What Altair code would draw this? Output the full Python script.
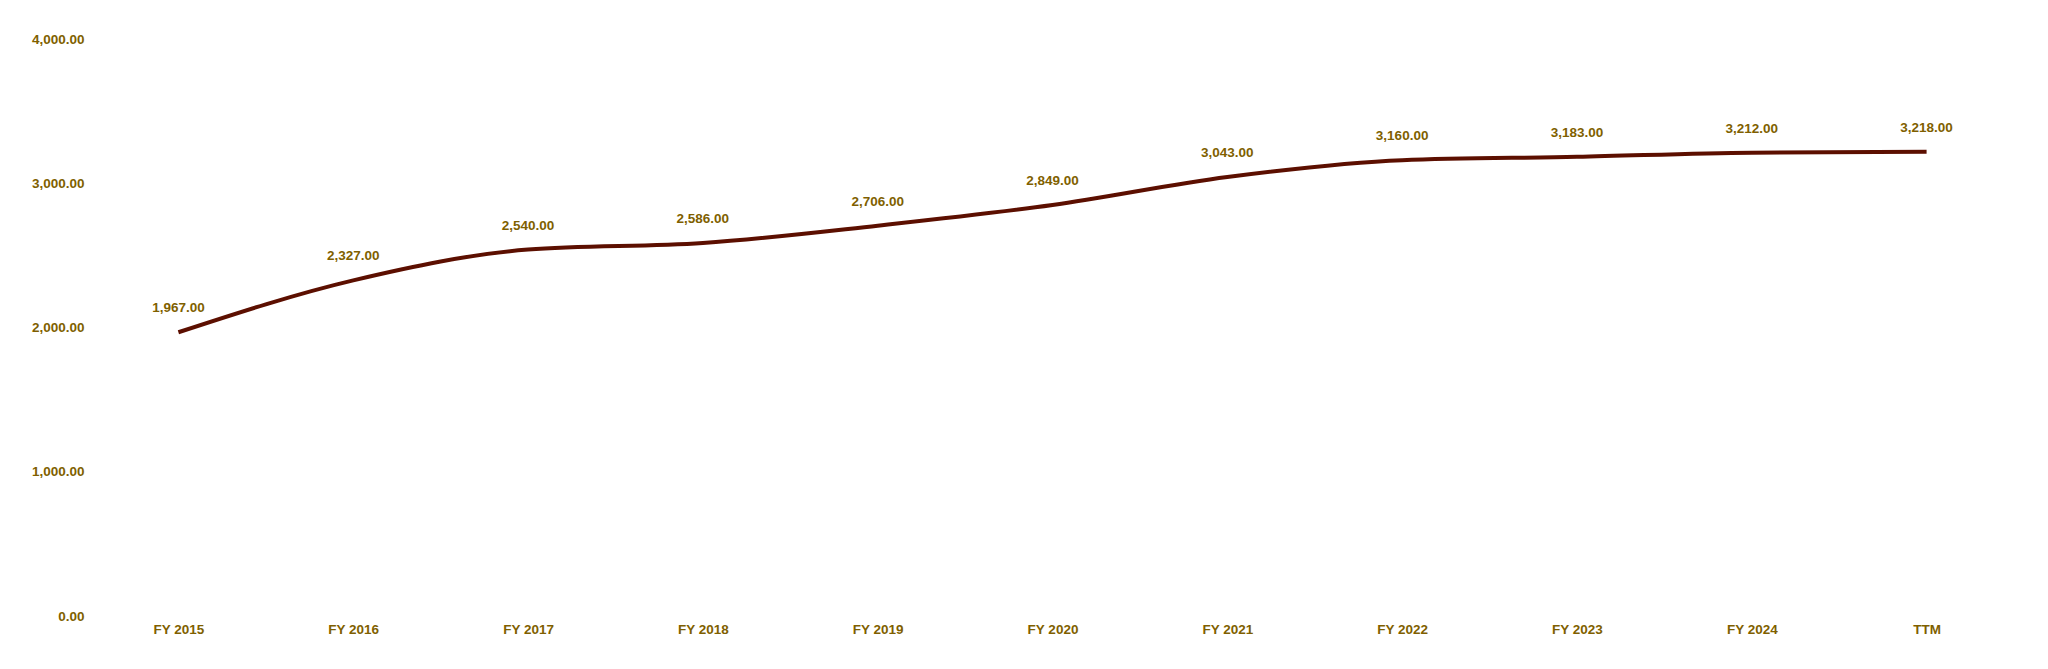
import altair as alt
import pandas as pd

periods = ["FY 2015", "FY 2016", "FY 2017", "FY 2018", "FY 2019", "FY 2020",
           "FY 2021", "FY 2022", "FY 2023", "FY 2024", "TTM"]
values = [1967, 2327, 2540, 2586, 2706, 2849, 3043, 3160, 3183, 3212, 3218]
y_ticks = [0, 1000, 2000, 3000, 4000]

df = pd.DataFrame({"period": periods, "value": values})

LABEL_COLOR = "#7f5f00"
LINE_COLOR = "#5c0f00"
FONT = "Liberation Sans"
FS = 13.5

x = alt.X("period:N", sort=periods, title=None,
          scale=alt.Scale(type="point", padding=0.5),
          axis=alt.Axis(labelAngle=0, ticks=False, domain=False, grid=False,
                        labelColor=LABEL_COLOR, labelFont=FONT, labelFontSize=FS,
                        labelFontWeight="bold", labelPadding=6))
y = alt.Y("value:Q", title=None,
          scale=alt.Scale(domain=[0, 4000], nice=False),
          axis=alt.Axis(values=y_ticks, format=",.2f", ticks=False, domain=False,
                        grid=False, labelColor=LABEL_COLOR, labelFont=FONT,
                        labelFontSize=FS, labelFontWeight="bold", labelPadding=7,
                        minExtent=78))

line = alt.Chart(df).mark_line(color=LINE_COLOR, strokeWidth=4,
                               interpolate="monotone").encode(x=x, y=y)
labels = alt.Chart(df).mark_text(color=LABEL_COLOR, font=FONT, fontSize=FS,
                                 fontWeight="bold", dy=-24).encode(
    x=x, y=y, text=alt.Text("value:Q", format=",.2f"))

chart = (line + labels).properties(
    width=1923, height=577, background="white",
    padding={"left": 5, "top": 24, "right": 5, "bottom": 5},
).configure_view(strokeWidth=0, stroke=None)

chart.save("out.html", embed_options={"renderer": "svg", "actions": False})
